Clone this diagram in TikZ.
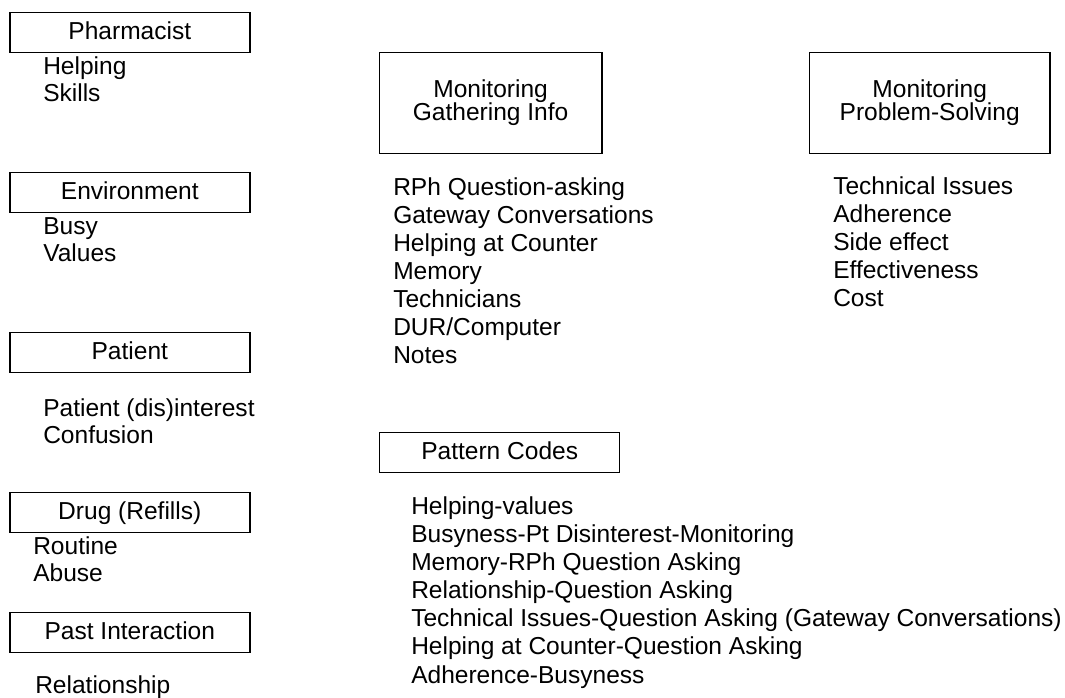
\documentclass[tikz,border=0pt]{standalone}
\usepackage{fontspec}
\setmainfont{Liberation Sans}
\usepackage{tikz}
\usetikzlibrary{positioning}

\begin{document}
\begin{tikzpicture}[
    x=0.75pt, y=-0.75pt,
    boite/.style={rectangle, draw=black, line width=1.1pt, inner sep=0pt,
      minimum width=180pt, minimum height=30pt, text height=13.4pt, text depth=3.5pt,
      font=\fontsize{18.4pt}{21pt}\selectfont},
    grande/.style={boite, minimum height=75.5pt, align=center, text height=, text depth=,
      font=\fontsize{18.4pt}{17.25pt}\selectfont},
    entree/.style={anchor=base west, inner sep=0pt, font=\fontsize{18.4pt}{21pt}\selectfont}
  ]
    \useasboundingbox (0,0) rectangle (1065,698);

    % colonne de gauche
    \node[boite] (pharm) at (129.8,32.7) {Pharmacist};
    \node[boite] (env)   at (129.8,192.7) {Environment};
    \node[boite] (pat)   at (129.8,352.7) {Patient};
    \node[boite] (drug)  at (129.8,512.7) {Drug (Refills)};
    \node[boite] (past)  at (129.8,632.7) {Past Interaction};

    \node[entree] (pharm1) at (43,75) {Helping};
    \node[entree] (pharm2) at (43,102) {Skills};
    \node[entree] (env1) at (43,235) {Busy};
    \node[entree] (env2) at (43,262) {Values};
    \node[entree] (pat1) at (43,417) {Patient (dis)interest};
    \node[entree] (pat2) at (43,444) {Confusion};
    \node[entree] (drug1) at (33,555) {Routine};
    \node[entree] (drug2) at (33,582) {Abuse};
    \node[entree] (past1) at (35,694) {Relationship};

    % monitoring
    \node[grande, minimum width=167pt] (gath) at (490.6,103) {Monitoring\\Gathering Info};
    \node[grande, minimum width=180.5pt] (prob) at (929.7,103) {Monitoring\\Problem-Solving};

    \foreach \txt [count=\i] in {RPh Question-asking, Gateway Conversations,
        Helping at Counter, Memory, Technicians, DUR/Computer, Notes}
      \node[entree] (gath\i) at (393,{168+28*\i}) {\txt};

    \foreach \txt [count=\i] in {Technical Issues, Adherence, Side effect,
        Effectiveness, Cost}
      \node[entree] (prob\i) at (833,{167+28*\i}) {\txt};

    % pattern codes
    \node[boite] (patt) at (499.7,452.7) {Pattern Codes};

    \foreach \txt [count=\i] in {Helping-values,
        Busyness-Pt Disinterest-Monitoring,
        Memory-RPh Question Asking,
        Relationship-Question Asking,
        Technical Issues-Question Asking (Gateway Conversations),
        Helping at Counter-Question Asking,
        Adherence-Busyness}
      \node[entree] (patt\i) at (411,{487+28*\i}) {\txt};
  \end{tikzpicture}
\end{document}
